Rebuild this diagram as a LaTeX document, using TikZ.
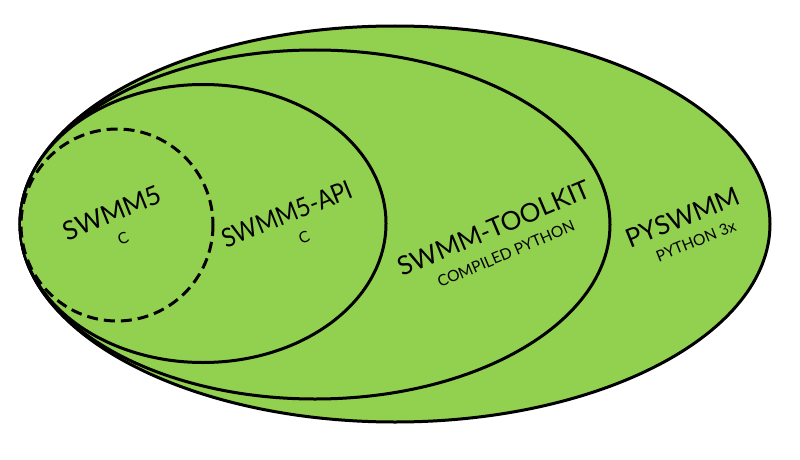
\documentclass[tikz,border=0pt]{standalone}
\usepackage{fontspec}
\usepackage{graphicx}
\setmainfont{Lato}
\definecolor{lgreen}{HTML}{92D050}
\begin{document}
\begin{tikzpicture}[x=1pt,y=-1pt,
  ring/.style={draw=black,line width=3pt,fill=lgreen},
  big/.style={font=\fontsize{26}{28}\selectfont,inner sep=0pt},
  small/.style={font=\fontsize{15.5}{17}\selectfont,inner sep=0pt}]
\useasboundingbox (0,0) rectangle (800,460);
\draw[ring] (395,224) ellipse [x radius=375,y radius=198];
\draw[ring] (315,224.5) ellipse [x radius=295,y radius=174.5];
\draw[ring] (203,223.5) ellipse [x radius=183,y radius=139];
\draw[ring,dashed,dash pattern=on 11pt off 6pt] (117,225) circle [radius=96];
\node[big,rotate=22] (swmm5) at (112,213) {SWMM5};
\node[small,rotate=22] (swmm5c) at (123,238) {C};
\node[big,rotate=22] (api) at (287,214) {\scalebox{0.9}[1]{SWMM5-API}};
\node[small,rotate=22] (apic) at (304,237) {C};
\node[big,rotate=23] (tk) at (494,228) {SWMM-TOOLKIT};
\node[small,rotate=23] (tkc) at (506,254) {COMPILED PYTHON};
\node[big,rotate=22] (py) at (683,217) {PYSWMM};
\node[small,rotate=22] (pyc) at (696,241) {PYTHON 3x};
\end{tikzpicture}
\end{document}
